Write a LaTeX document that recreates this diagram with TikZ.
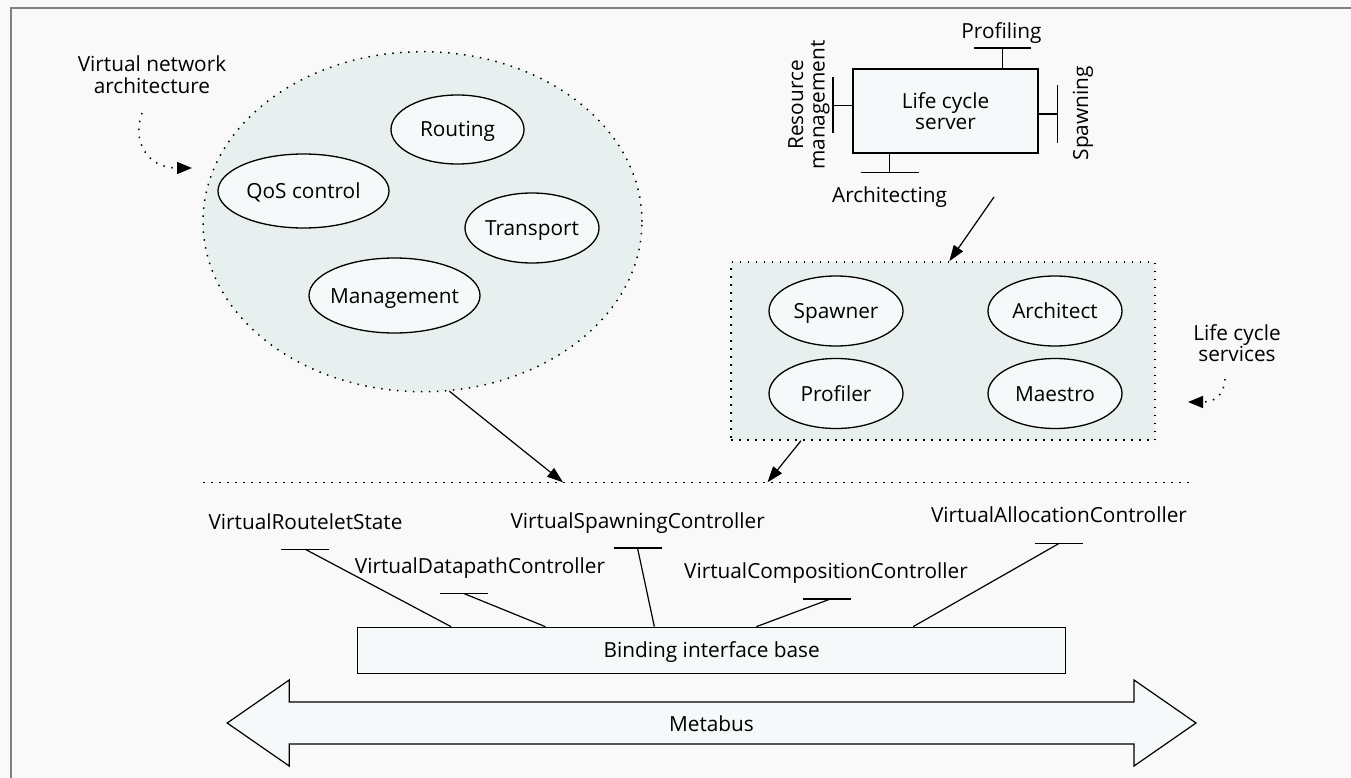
\documentclass[tikz,border=0pt]{standalone}
\usepackage{fontspec}
\setmainfont{Open Sans}
\usetikzlibrary{shapes.geometric,arrows.meta}
\definecolor{paper}{HTML}{F9F9F9}
\definecolor{framegray}{HTML}{808080}
\definecolor{groupfill}{HTML}{E8F0EF}
\definecolor{boxfill}{HTML}{F5F9FA}
% zero-width centred box, so the label never widens its shape
\newcommand\midbox[1]{\hbox to 0pt{\hss#1\hss}}

\begin{document}
\begin{tikzpicture}[x=1pt,y=-1pt,
  every node/.style={font=\fontsize{20.8}{21.5}\selectfont, inner sep=0pt},
  oval/.style={ellipse, draw, line width=1.3pt, fill=boxfill,
    minimum width=134pt, minimum height=70pt, text height=15pt, text depth=0pt},
  dotline/.style={line width=1.5pt, dash pattern=on 1.5pt off 6.5pt},
  thin/.style={line width=1.2pt},
  arr/.style={thin, -{Triangle[length=16pt,width=11pt]}},
  dotarr/.style={dotline, -{Triangle[length=15pt,width=12pt]}},
  box/.style={draw, line width=1.3pt, fill=boxfill},
]
% page and frame
\fill[paper] (0,0) rectangle (1351,778);
\useasboundingbox (0,0) rectangle (1351,778);
\draw[framegray, line width=2pt] (10.8,778) -- (10.8,7.8) -- (1351,7.8);

% ---- virtual network architecture ----
\node[ellipse, draw, dotline, fill=groupfill, minimum width=439pt, minimum height=340pt] (vna) at (422.5,221.7) {};
\node[oval, minimum width=133pt, minimum height=69pt] (rt) at (457.5,129.5) {\midbox{Routing}};
\node[oval, minimum width=171pt, minimum height=74pt] (qos) at (303.5,191) {\midbox{QoS control}};
\node[oval, minimum width=134pt, minimum height=70pt] (tp) at (532,228) {\midbox{Transport}};
\node[oval, minimum width=171pt, minimum height=75pt] (mg) at (394.5,295.5) {\midbox{Management}};

\node[align=center] (vnal) at (152,74.6) {Virtual network\\architecture};
\coordinate (vnaS) at (142,113);
\coordinate (vnaT) at (192,168);
\draw[dotarr] (vnaS) .. controls (132,140) and (146,168) .. (vnaT);

% ---- life cycle server ----
\node[box, minimum width=185pt, minimum height=84pt, align=center] (lcs) at (945.5,111) {Life cycle\\server};

\coordinate (pf) at (1002.7,48);
\draw[thin] (pf |- lcs.north) -- (pf);
\draw[thin] ([xshift=-28.5pt]pf) -- ([xshift=28.5pt]pf);
\node[anchor=base] (pfl) at (1001.5,39) {Profiling};

\coordinate (rm) at (833,105.3);
\draw[thin] (rm -| lcs.west) -- (rm);
\draw[thin] ([yshift=-28pt]rm) -- ([yshift=28pt]rm);
\node[rotate=90, align=center] (rml) at (809,105) {Resource\\management};

\coordinate (sp) at (1057.7,114);
\draw[thin] (sp -| lcs.east) -- (sp);
\draw[thin] ([yshift=-29pt]sp) -- ([yshift=29pt]sp);
\node[rotate=90, anchor=base] (spl) at (1088,113.3) {Spawning};

\coordinate (ar) at (889.7,172.7);
\draw[thin] (ar |- lcs.south) -- (ar);
\draw[thin] ([xshift=-29pt]ar) -- ([xshift=29pt]ar);
\node[anchor=base] (arl) at (889.5,202.7) {Architecting};

% ---- life cycle services ----
\node[rectangle, draw, dotline, fill=groupfill, minimum width=424pt, minimum height=178pt] (svc) at (943,351) {};
\node[oval] (spw) at (836,311) {\midbox{Spawner}};
\node[oval] (arc) at (1055,311) {\midbox{Architect}};
\node[oval] (prf) at (836,393.5) {\midbox{Profiler}};
\node[oval] (mae) at (1055,393.5) {\midbox{Maestro}};

\coordinate (lcsA) at (994,197);
\draw[arr] (lcsA) -- ([xshift=6.3pt]svc.north);

\node[align=center] (svcl) at (1237,342.9) {Life cycle\\services};
\coordinate (svcS) at (1225,379);
\coordinate (svcT) at (1188,402);
\draw[dotarr] (svcS) .. controls (1224,396) and (1214,402) .. (svcT);

% ---- metabus layer ----
\coordinate (busL) at (203,482.3);
\coordinate (busR) at (1191,482.3);
\coordinate (busA) at (563,482.3);
\coordinate (busB) at (767.5,482.3);
\draw[dotline] (busL) -- (busR);
\draw[arr] (vna.-81) -- (busA);
\draw[arr] ([xshift=70.7pt]svc.south west) -- (busB);

\node[box, minimum width=708pt, minimum height=46pt, text height=15pt, text depth=0pt] (bind) at (711.7,650.3) {Binding interface base};

% controller interfaces
\coordinate (i1) at (305.3,549.3);
\coordinate (i2) at (464.3,593.7);
\coordinate (i3) at (637.5,548);
\coordinate (i4) at (826.7,599);
\coordinate (i5) at (1059.3,543.3);
\foreach \c in {i1,i2,i3,i4,i5}
  \draw[thin] ([xshift=-24pt]\c) -- ([xshift=24pt]\c);
\draw[thin] (i1) -- ([xshift=94pt]bind.north west);
\draw[thin] (i2) -- ([xshift=188.3pt]bind.north west);
\draw[thin] (i3) -- ([xshift=297.3pt]bind.north west);
\draw[thin] ([xshift=3.7pt]i4) -- ([xshift=399.3pt]bind.north west);
\draw[thin] (i5) -- ([xshift=556.1pt]bind.north west);
\node[anchor=base] (l1) at (305.5,529.3) {VirtualRouteletState};
\node[anchor=base] (l2) at (480,573.5) {VirtualDatapathController};
\node[anchor=base] (l3) at (637.7,528) {VirtualSpawningController};
\node[anchor=base] (l4) at (826,578.7) {VirtualCompositionController};
\node[anchor=base] (l5) at (1059,522.7) {VirtualAllocationController};

% metabus double arrow
\coordinate (mbL) at (227.2,723);
\coordinate (mbR) at (1196,723);
\draw[thin, fill=boxfill] (mbL) -- (289.2,680) -- (289.2,702) -- (1134,702) -- (1134,680)
  -- (mbR) -- (1134,766) -- (1134,744) -- (289.2,744) -- (289.2,766) -- cycle;
\node[anchor=base] (mbt) at (711.5,731) {Metabus};
\end{tikzpicture}
\end{document}
